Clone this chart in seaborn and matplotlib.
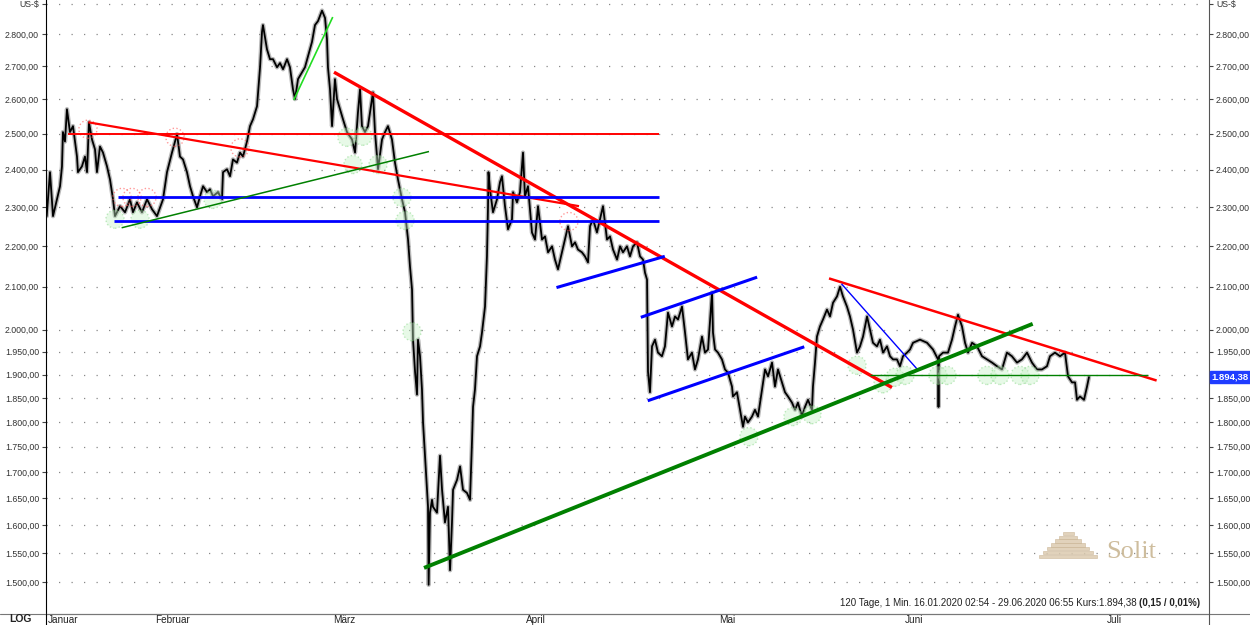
import numpy as np
import pandas as pd
import seaborn as sns
import matplotlib.pyplot as plt
from matplotlib.ticker import FuncFormatter, FixedLocator, NullLocator
from matplotlib.lines import Line2D
import matplotlib.transforms as mtrans

# Handelstage seit 16.01.2020 und Kurs in US-$
tage = [0.08, 0.45, 0.79, 1.24, 1.58, 1.80, 1.91, 2.14, 2.36, 2.70, 3.04, 3.49, 3.60, 4.05, 4.39,
        4.62, 4.84, 5.18, 5.52, 5.74, 6.08, 6.42, 6.87, 7.21, 7.55, 7.77, 8.34, 8.90, 9.46, 9.80,
        10.25, 10.81, 11.38, 11.94, 12.50, 13.18, 13.63, 14.19, 14.76, 15.09, 15.43, 15.88, 16.22,
        16.56, 17.01, 17.35, 17.69, 18.14, 18.47, 18.81, 19.37, 19.82, 19.94, 20.39, 20.73, 21.06,
        21.51, 21.85, 22.19, 22.64, 22.98, 23.32, 23.77, 24.11, 24.33, 24.44, 24.89, 25.23, 25.57,
        26.02, 26.36, 26.70, 27.15, 27.48, 27.82, 28.05, 28.39, 28.84, 29.17, 29.51, 29.96, 30.30,
        30.64, 31.09, 31.43, 31.65, 31.76, 31.99, 32.22, 32.55, 32.78, 33.12, 33.45, 33.90, 34.47,
        34.81, 35.14, 35.37, 35.59, 35.93, 36.27, 36.83, 37.06, 37.40, 37.85, 38.19, 38.52, 38.97,
        39.31, 39.65, 40.10, 40.44, 40.78, 41.00, 41.23, 41.34, 41.57, 41.79, 41.90, 42.13, 42.35,
        42.47, 42.69, 42.92, 43.03, 43.10, 43.25, 43.48, 43.59, 44.04, 44.38, 44.61, 44.94, 45.28,
        45.51, 45.73, 45.85, 46.30, 46.64, 46.97, 47.42, 47.76, 47.99, 48.10, 48.32, 48.55, 48.89,
        49.11, 49.45, 49.67, 49.79, 49.84, 50.01, 50.35, 50.80, 51.14, 51.36, 51.70, 52.04, 52.49,
        52.61, 53.05, 53.39, 53.73, 53.95, 54.29, 54.74, 55.08, 55.42, 55.87, 56.21, 56.55, 57.00,
        57.33, 57.67, 58.12, 58.46, 58.80, 59.25, 59.59, 59.92, 60.37, 60.71, 61.05, 61.28, 61.61,
        62.06, 62.40, 62.74, 63.19, 63.53, 63.87, 64.32, 64.66, 64.99, 65.44, 65.78, 66.12, 66.57,
        66.91, 67.25, 67.47, 67.70, 67.81, 68.03, 68.26, 68.60, 68.93, 69.38, 69.72, 70.06, 70.51,
        70.85, 71.19, 71.64, 71.98, 72.31, 72.76, 73.10, 73.44, 73.89, 74.23, 74.57, 75.02, 75.13,
        75.36, 75.69, 76.14, 76.48, 76.82, 77.27, 77.38, 77.83, 78.17, 78.51, 78.73, 79.07, 79.52,
        79.86, 80.20, 80.65, 80.99, 81.33, 81.78, 82.11, 82.45, 82.90, 83.24, 83.58, 84.03, 84.37,
        84.70, 85.15, 85.49, 85.83, 86.28, 86.39, 86.62, 86.84, 87.18, 87.52, 87.97, 88.31, 88.65,
        89.10, 89.44, 89.77, 90.22, 90.56, 90.90, 91.35, 91.69, 92.03, 92.48, 92.81, 93.15, 93.60,
        93.94, 94.28, 94.73, 95.07, 95.41, 95.85, 96.19, 96.53, 96.98, 97.32, 97.66, 98.45, 99.24,
        99.91, 100.48, 100.53, 100.59, 101.04, 101.60, 102.05, 102.39, 102.73, 103.18, 103.52,
        103.86, 104.31, 104.87, 105.43, 106.00, 106.56, 107.12, 107.68, 108.24, 108.80, 109.37,
        109.93, 110.50, 111.06, 111.62, 112.19, 112.75, 113.09, 113.65, 114.22, 114.78, 115.12,
        115.57, 115.91, 116.13, 116.47, 116.92, 117.26, 117.48]
kurs = [2276, 2393, 2276, 2320, 2355, 2409, 2505, 2478, 2571, 2505, 2522, 2436, 2393, 2409, 2436,
        2393, 2533, 2484, 2456, 2393, 2464, 2447, 2409, 2373, 2320, 2276, 2302, 2286, 2320, 2286,
        2312, 2286, 2320, 2294, 2276, 2320, 2393, 2447, 2499, 2436, 2428, 2393, 2355,
        2328, 2299, 2328, 2355, 2339, 2347, 2328, 2339, 2320, 2393, 2401, 2382, 2428,
        2419, 2447, 2436, 2478, 2522, 2542, 2580, 2697, 2808, 2830, 2753, 2722, 2722,
        2697, 2710, 2691, 2722, 2697, 2630, 2601, 2661, 2682, 2697, 2731, 2776, 2830,
        2843, 2877, 2853, 2785, 2697, 2630, 2522, 2661, 2601, 2571, 2542, 2505, 2484,
        2447, 2562, 2630, 2522, 2505, 2522, 2621, 2505, 2401, 2484, 2505, 2522, 2484,
        2419, 2373, 2320, 2286, 2216, 2149, 2093, 1977, 1906, 1857, 1977, 1940, 1868,
        1799, 1732, 1666, 1634, 1495, 1623, 1647, 1634, 1623, 1732, 1666, 1605, 1634,
        1520, 1605, 1666, 1685, 1711, 1666, 1660, 1647, 1764, 1831, 1868, 1940, 1962,
        1993, 2053, 2174, 2302, 2393, 2347, 2286, 2320, 2366, 2382, 2302, 2242, 2268,
        2339, 2312, 2339, 2447, 2328, 2355, 2234, 2216, 2302, 2216, 2224, 2184, 2199,
        2166, 2142, 2184, 2216, 2250, 2199, 2209, 2191, 2184, 2174, 2159, 2250, 2268,
        2234, 2268, 2302, 2216, 2224, 2191, 2166, 2199, 2184, 2199, 2174, 2199, 2209,
        2174, 2166, 2134, 2117, 1906, 1862, 1962, 1977, 1948, 1940, 1962, 2039, 2007,
        2030, 2023, 2053, 1993, 1933, 1948, 1911, 1933, 1984, 1948, 1955, 2086, 1993,
        1955, 1948, 1933, 1911, 1904, 1874, 1853, 1862, 1825, 1790, 1811, 1799, 1811,
        1825, 1811, 1868, 1911, 1896, 1926, 1874, 1911, 1883, 1862, 1853, 1840, 1825,
        1840, 1811, 1831, 1846, 1825, 1874, 1926, 1984, 2007, 2023, 2046, 2030, 2062,
        2077, 2100, 2077, 2053, 2030, 2000, 1948, 1962, 1984, 2030, 2000, 1970, 1962,
        1977, 1948, 1962, 1940, 1933, 1933, 1918, 1940, 1948, 1955, 1970, 1977, 1970,
        1955, 1933, 1831, 1940, 1948, 1948, 1977, 2007, 2034, 2007, 1970,
        1948, 1970, 1962, 1940, 1933, 1926, 1918, 1911, 1948, 1940, 1926,
        1933, 1948, 1926, 1911, 1911, 1918, 1940, 1948, 1940, 1948, 1896,
        1883, 1883, 1846, 1853, 1846, 1874, 1894.38]

monate = ['Januar', 'Februar', 'März', 'April', 'Mai', 'Juni', 'Juli']
monat_pos = [0, 12.05, 32.1, 53.8, 75.6, 96.5, 119.3]

y_ticks = [1500, 1550, 1600, 1650, 1700, 1750, 1800, 1850, 1900, 1950, 2000,
           2100, 2200, 2300, 2400, 2500, 2600, 2700, 2800, 2900]

# Trendlinien (Anfang/Ende)
rot_dick_x, rot_dick_y = [32.44, 95.29], [2682, 1872]
rot_dreieck_x, rot_dreieck_y = [88.2, 125.1], [2120, 1887]
rot_schraeg_x, rot_schraeg_y = [4.77, 60.04], [2533, 2302]
rot_horiz_x, rot_horiz_y = [2.48, 69.05], [2500, 2500]
blau_oben_x, blau_oben_y = [8.11, 69.05], [2325, 2325]
blau_unten_x, blau_unten_y = [7.66, 69.05], [2264, 2264]
blau_april_x, blau_april_y = [57.5, 69.7], [2098, 2174]
blau_kanal1_x, blau_kanal1_y = [67.0, 80.1], [2028, 2123]
blau_kanal2_x, blau_kanal2_y = [67.78, 85.41], [1844, 1961]
blau_duenn_x, blau_duenn_y = [89.6, 98.25], [2107, 1909]
gruen_dick_x, gruen_dick_y = [42.58, 111.14], [1524, 2013]
gruen_duenn_x, gruen_duenn_y = [8.52, 43.14], [2246, 2450]
gruen_horiz_x, gruen_horiz_y = [92.8, 124.1], [1898, 1898]
hellgruen_x, hellgruen_y = [27.9, 32.3], [2598, 2856]

kreis_gruen_x = [7.77, 10.59, 18.81, 33.90, 34.58, 35.71, 37.40, 40.10, 40.44, 41.23, 79.18,
                 84.14, 86.28, 91.35, 94.28, 95.63, 96.76, 100.47, 101.49, 105.99, 107.46,
                 109.71, 110.84]
kreis_gruen_y = [2268, 2268, 2320, 2490, 2414, 2493, 2414, 2325, 2265, 1995, 1770,
                 1811, 1815, 1920, 1880, 1894, 1898, 1898, 1898, 1898, 1898, 1898, 1898]
kreis_rot_x = [4.73, 8.56, 9.69, 11.38, 14.53, 21.85, 58.91]
kreis_rot_y = [2513, 2325, 2325, 2325, 2490, 2460, 2262]

letzter_kurs = 1894.38


def de_format(v, pos=None):
    if v >= 2900:
        return 'US-$'
    s = f'{v:,.2f}'
    return s.replace(',', 'X').replace('.', ',').replace('X', '.')


sns.set_style('white')
plt.rcParams['font.family'] = ['Liberation Sans', 'DejaVu Sans']

fig = plt.figure(figsize=(12.5, 6.25), dpi=100)
ax = fig.add_axes([46 / 1250, 11 / 625, 1163 / 1250, 614 / 625])

df = pd.DataFrame({'Tag': tage, 'Kurs': kurs})
sns.lineplot(data=df, x='Tag', y='Kurs', color='#808080', lw=3.2, alpha=0.55, ax=ax, zorder=2)
sns.lineplot(data=df, x='Tag', y='Kurs', color='black', lw=1.3, ax=ax, zorder=3)

linien = [
    (rot_horiz_x, rot_horiz_y, '#ff0000', 1.4),
    (rot_schraeg_x, rot_schraeg_y, '#ff0000', 1.6),
    (rot_dick_x, rot_dick_y, '#ff0000', 2.4),
    (rot_dreieck_x, rot_dreieck_y, '#ff0000', 1.8),
    (blau_oben_x, blau_oben_y, '#0000ff', 2.0),
    (blau_unten_x, blau_unten_y, '#0000ff', 2.0),
    (blau_april_x, blau_april_y, '#0000ff', 2.2),
    (blau_kanal1_x, blau_kanal1_y, '#0000ff', 2.2),
    (blau_kanal2_x, blau_kanal2_y, '#0000ff', 2.2),
    (blau_duenn_x, blau_duenn_y, '#0000ff', 1.0),
    (gruen_dick_x, gruen_dick_y, '#008000', 2.8),
    (gruen_duenn_x, gruen_duenn_y, '#008000', 1.1),
    (gruen_horiz_x, gruen_horiz_y, '#008000', 1.0),
    (hellgruen_x, hellgruen_y, '#22dd22', 1.2),
]
for xs, ys, farbe, lw in linien:
    ax.plot(xs, ys, color=farbe, lw=lw, zorder=5, solid_capstyle='butt')

ax.scatter(kreis_gruen_x, kreis_gruen_y, s=170, facecolor='#c4f0c4', edgecolor='#66cc66',
           alpha=0.4, linestyle=':', lw=1.0, zorder=4)
ax.scatter(kreis_rot_x, kreis_rot_y, s=170, facecolor='none', edgecolor='#ff5555',
           alpha=0.6, linestyle=':', lw=1.0, zorder=4)

ax.set_yscale('log')
ax.set_ylim(1446, 2912)
ax.set_xlim(0, 131)
ax.yaxis.set_major_locator(FixedLocator(y_ticks))
ax.yaxis.set_minor_locator(NullLocator())
ax.yaxis.set_major_formatter(FuncFormatter(de_format))
ax.set_xlabel('')
ax.set_ylabel('')

ax.yaxis.grid(True, linestyle=(0, (1, 9)), color='#888888', lw=0.9)
ax.xaxis.grid(False)

ax.tick_params(axis='y', which='major', left=True, right=True, labelleft=True, labelright=True,
               length=3, width=0.8, color='#444444', labelsize=6.3, labelcolor='#333333', pad=2)
ax.set_xticks(monat_pos)
ax.set_xticklabels(monate)
ax.tick_params(axis='x', length=11, width=0.8, color='#555555', labelsize=7.2,
               labelcolor='#222222', pad=-10)
for lab in ax.get_xticklabels():
    lab.set_ha('left')
    lab.set_transform(lab.get_transform() + mtrans.ScaledTranslation(2 / 100, 0, fig.dpi_scale_trans))

ax.spines['top'].set_visible(False)
ax.spines['left'].set_color('black')
ax.spines['right'].set_color('#555555')
ax.spines['bottom'].set_color('#777777')

fig.add_artist(Line2D([0, 1], [11 / 625, 11 / 625], color='#777777', lw=0.8))
fig.add_artist(Line2D([46 / 1250, 46 / 1250], [0, 11 / 625], color='black', lw=0.8))
fig.add_artist(Line2D([1209 / 1250, 1209 / 1250], [0, 11 / 625], color='#555555', lw=0.8))

ax.text(1.002, letzter_kurs, de_format(letzter_kurs), transform=ax.get_yaxis_transform(),
        ha='left', va='center', fontsize=6.8, color='white', fontweight='bold', zorder=10,
        bbox=dict(boxstyle='square,pad=0.12', facecolor='#1f3cff', edgecolor='#1f3cff'))

fig.text(0.007, 0.004, 'LOG', fontsize=7.5, fontweight='bold', color='#222222')

t_bold = fig.text(1200 / 1250, (625 - 614 + 6) / 625, '(0,15 / 0,01%)', ha='right', va='bottom',
                  fontsize=7, fontweight='bold', color='#222222')
fig.canvas.draw()
bb = t_bold.get_window_extent()
fig.text(bb.x0 / 1250 - 0.002, (625 - 614 + 6) / 625,
         '120 Tage, 1 Min. 16.01.2020 02:54 - 29.06.2020 06:55 Kurs:1.894,38', ha='right',
         va='bottom', fontsize=7, color='#222222')

# Logo unten rechts
for i in range(7):
    breite = 0.046 - i * 0.0062
    mitte = 1068 / 1250
    y0 = (625 - 558 + i * 3.8) / 625
    fig.patches.append(plt.Rectangle((mitte - breite / 2, y0), breite, 3.4 / 625,
                                     transform=fig.transFigure, facecolor='#dccbb0',
                                     edgecolor='#c4ae8c', lw=0.4, alpha=0.85))
fig.text(1106 / 1250, (625 - 558) / 625, 'Solit', fontsize=19, family='Liberation Serif',
         color='#c9b693', alpha=0.9)

fig.savefig('out.png', dpi=100)
